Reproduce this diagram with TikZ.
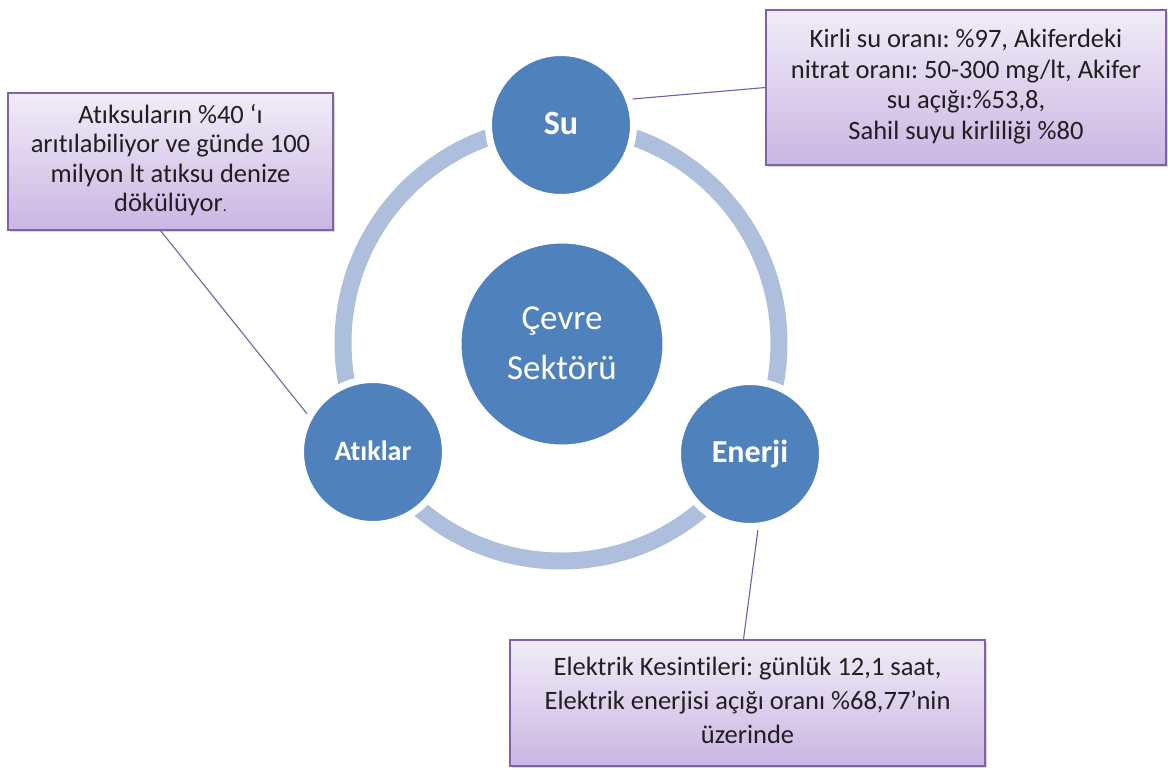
\documentclass[tikz,border=0pt]{standalone}
\usepackage{fontspec}
\setmainfont{Carlito}[Ligatures=NoCommon]
\usetikzlibrary{shadows,backgrounds}
\definecolor{sblue}{HTML}{4F81BD}
\definecolor{ringc}{HTML}{ADBFDC}
\definecolor{boxtop}{HTML}{F1ECF8}
\definecolor{boxbot}{HTML}{CAB6E3}
\definecolor{boxline}{HTML}{7F63A3}
\definecolor{conn}{HTML}{7A5AA6}
\definecolor{txt}{HTML}{1F1F1F}
\frenchspacing
\begin{document}
\begin{tikzpicture}[x=1pt,y=-1pt,
  satnode/.style={circle, fill=sblue, draw=white, line width=7pt, minimum size=145pt, inner sep=0pt, text=white, font=\bfseries\fontsize{32}{36}\selectfont, drop shadow={opacity=0.22, shadow xshift=1.5pt, shadow yshift=-2.5pt}},
  infobox/.style={rectangle, draw=boxline, line width=1.2pt, top color=boxtop, bottom color=boxbot, text=txt, inner sep=0pt, drop shadow={opacity=0.3, shadow xshift=2pt, shadow yshift=-2pt}},
  connline/.style={draw=conn, line width=1.1pt}]
\useasboundingbox (0,0) rectangle (1168,769);

\node[circle, fill=sblue, draw=white, line width=7pt, minimum size=208pt, inner sep=0pt, text=white, font=\fontsize{35}{50}\selectfont, drop shadow={opacity=0.22, shadow xshift=1.5pt, shadow yshift=-2.5pt}] (cevre) at (562,344)
  {\raisebox{3pt}{\begin{tabular}{@{}c@{}}Çevre\\Sektörü\end{tabular}}};

\node[satnode, font=\bfseries\fontsize{34}{36}\selectfont] (su) at (561,125) {\raisebox{4pt}{Su}};
\node[satnode, font=\bfseries\fontsize{28}{32}\selectfont] (atik) at (373,452) {\raisebox{2pt}{Atıklar}};
\node[satnode] (enerji) at (750,454) {\raisebox{2pt}{Enerji}};

\node[infobox, minimum width=400pt, minimum height=155pt, font=\fontsize{26.5}{30.5}\selectfont] (b1) at (966,87.5)
  {\raisebox{4pt}{\begin{tabular}{@{}c@{}}Kirli su oranı: \%97, Akiferdeki\\nitrat oranı: 50-300 mg/lt, Akifer\\su açığı:\%53,8,\\Sahil suyu kirliliği \%80\end{tabular}}};
\node[infobox, minimum width=325pt, minimum height=137pt, font=\fontsize{26.5}{29.5}\selectfont] (b2) at (170.5,161.5)
  {\begin{tabular}{@{}c@{}}Atıksuların \%40 ‘ı\\arıtılabiliyor ve günde 100\\milyon lt atıksu denize\\dökülüyor{\fontsize{16}{16}\selectfont.}\end{tabular}};
\node[infobox, minimum width=475pt, minimum height=126pt, font=\fontsize{26.5}{34}\selectfont] (b3) at (747.5,703)
  {\raisebox{9pt}{\begin{tabular}{@{}c@{}}Elektrik Kesintileri: günlük 12,1 saat,\\Elektrik enerjisi açığı oranı \%68,77’nin\\üzerinde\end{tabular}}};

\begin{scope}[on background layer]
  \fill[white] (0,0) rectangle (1168,769);
  \node[circle, draw=ringc, line width=17pt, minimum size=436pt, inner sep=0pt] (ring) at (561,343) {};
  \draw[connline] (su.20) -- (b1.west);
  \draw[connline] ([xshift=-10pt]b2.south) -- (atik.150);
  \draw[connline] (enerji.-84) -- ([xshift=-4pt]b3.north);
\end{scope}
\end{tikzpicture}
\end{document}
